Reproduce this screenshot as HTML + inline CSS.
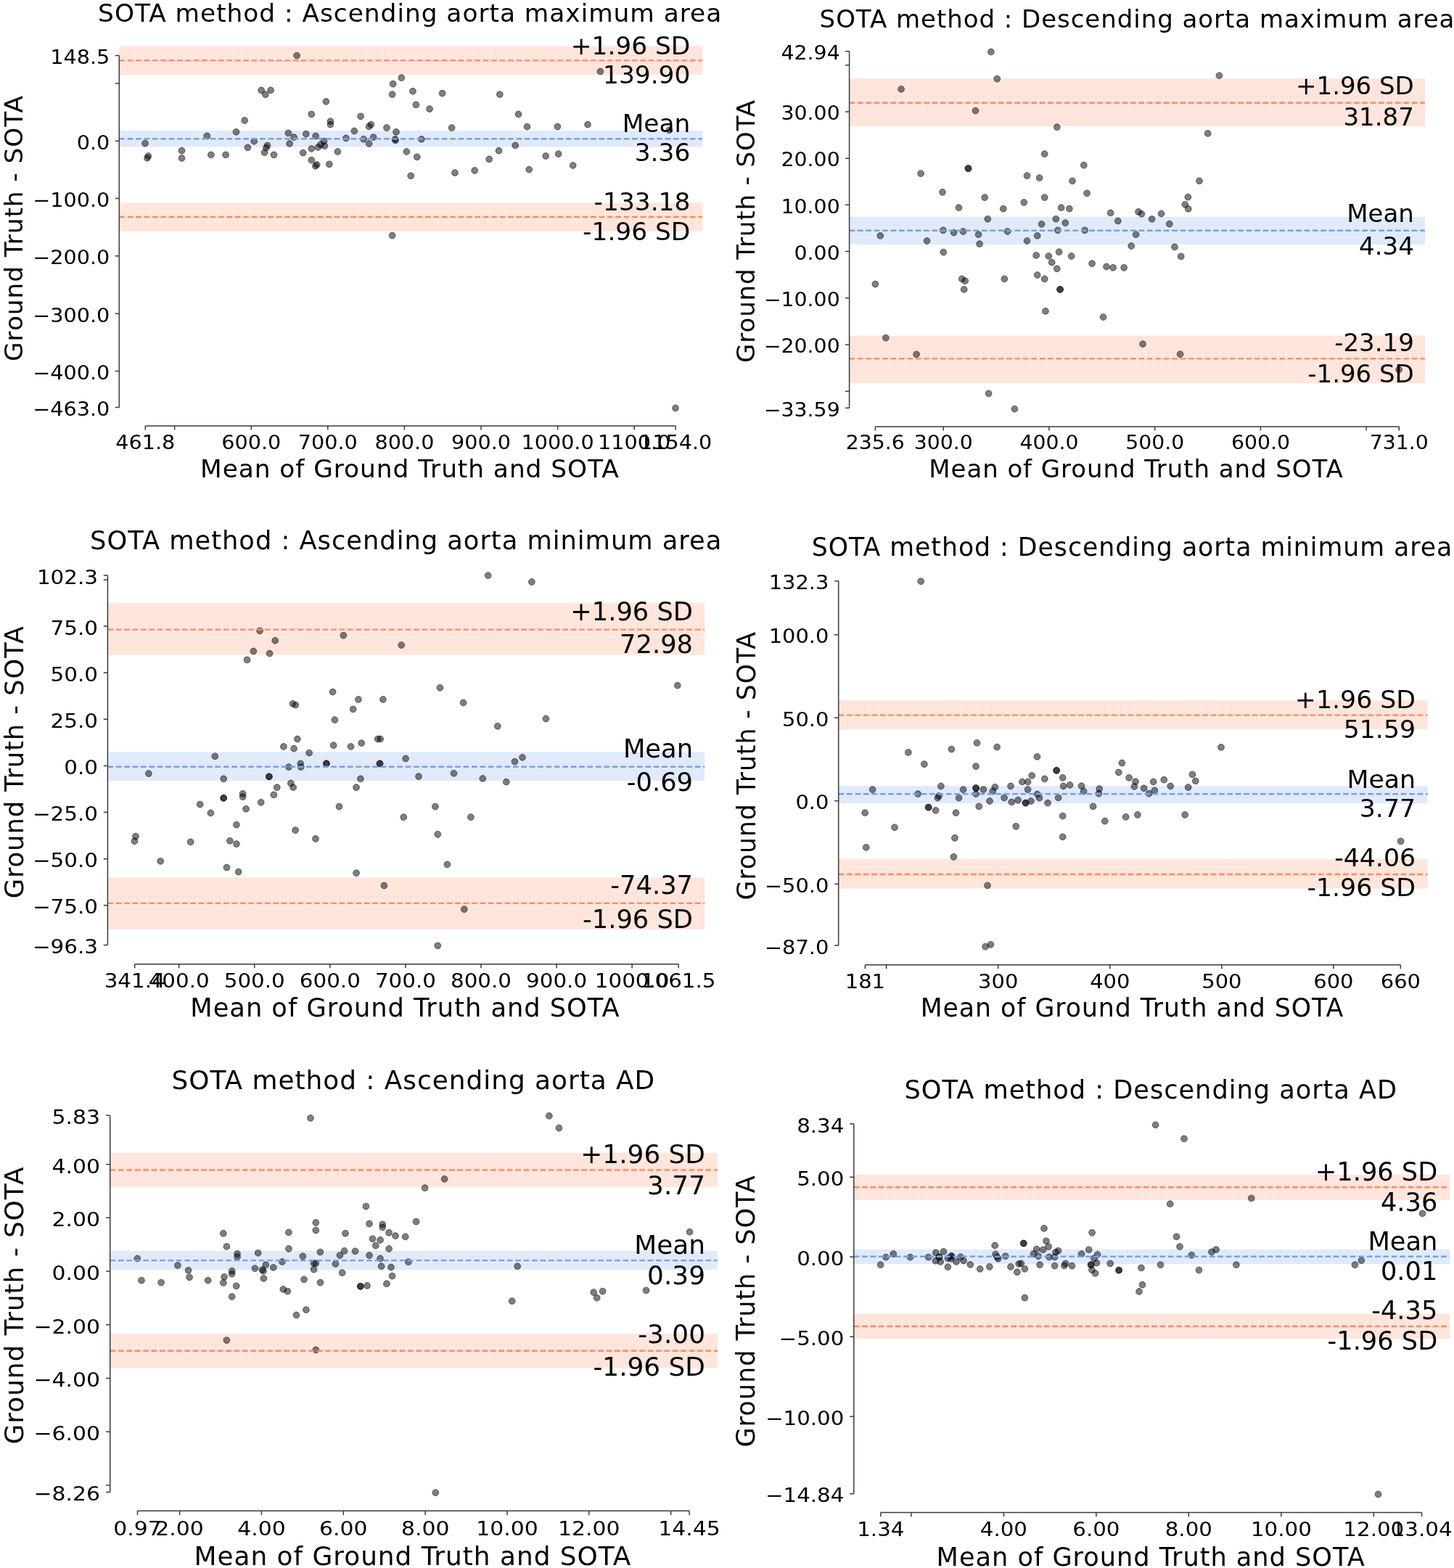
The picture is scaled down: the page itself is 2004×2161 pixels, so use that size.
<!DOCTYPE html>
<html><head><meta charset="utf-8"><title>SOTA method Bland-Altman plots</title>
<style>html,body{margin:0;padding:0;background:#fff;}svg{display:block;}text{fill:#000;}</style></head>
<body><svg width="2004" height="2161" viewBox="0 0 2004 2161" font-family="'DejaVu Sans', 'Liberation Sans', sans-serif">
<rect width="2004" height="2161" fill="#fff"/>
<rect x="164.3" y="63.3" width="803.8" height="39.9" fill="#ff7f50" fill-opacity="0.2"/>
<rect x="164.3" y="180.1" width="803.8" height="22.5" fill="#6495ed" fill-opacity="0.2"/>
<rect x="164.3" y="279.5" width="803.8" height="39.3" fill="#ff7f50" fill-opacity="0.2"/>
<g fill="#000" fill-opacity="0.5" stroke="#000" stroke-opacity="0.5" stroke-width="1"><circle cx="409.1" cy="76.6" r="4.4"/><circle cx="360.1" cy="124.3" r="4.4"/><circle cx="373.1" cy="124.3" r="4.4"/><circle cx="365.8" cy="130.1" r="4.4"/><circle cx="449.4" cy="140" r="4.4"/><circle cx="429.3" cy="157.4" r="4.4"/><circle cx="337.2" cy="166" r="4.4"/><circle cx="455.4" cy="167.1" r="4.4"/><circle cx="455.4" cy="171.7" r="4.4"/><circle cx="325.5" cy="181.8" r="4.4"/><circle cx="285.3" cy="187.4" r="4.4"/><circle cx="397.4" cy="183.4" r="4.4"/><circle cx="405.1" cy="189.1" r="4.4"/><circle cx="421.8" cy="184.7" r="4.4"/><circle cx="435.1" cy="187.4" r="4.4"/><circle cx="200" cy="197.7" r="4.4"/><circle cx="350.2" cy="194.7" r="4.4"/><circle cx="399.1" cy="198" r="4.4"/><circle cx="446.5" cy="194.7" r="4.4"/><circle cx="447.3" cy="201.2" r="4.4"/><circle cx="441.9" cy="199.3" r="4.4"/><circle cx="438.4" cy="202.9" r="4.4"/><circle cx="368.5" cy="200.4" r="4.4"/><circle cx="366.9" cy="203.7" r="4.4"/><circle cx="364.5" cy="210.2" r="4.4"/><circle cx="341.4" cy="203.3" r="4.4"/><circle cx="429.3" cy="205" r="4.4"/><circle cx="465.4" cy="209" r="4.4"/><circle cx="250.5" cy="207.7" r="4.4"/><circle cx="250.5" cy="218" r="4.4"/><circle cx="290.9" cy="213.4" r="4.4"/><circle cx="311.1" cy="213.4" r="4.4"/><circle cx="377.5" cy="213.4" r="4.4"/><circle cx="417.7" cy="210.6" r="4.4"/><circle cx="204.3" cy="215" r="4.4"/><circle cx="203" cy="217.8" r="4.4"/><circle cx="429.3" cy="220.7" r="4.4"/><circle cx="436.7" cy="226.9" r="4.4"/><circle cx="434.8" cy="228.8" r="4.4"/><circle cx="453.8" cy="226.4" r="4.4"/><circle cx="476.8" cy="190.4" r="4.4"/><circle cx="488.3" cy="180.5" r="4.4"/><circle cx="497.1" cy="160.3" r="4.4"/><circle cx="501.1" cy="191.8" r="4.4"/><circle cx="508.6" cy="198" r="4.4"/><circle cx="508.6" cy="174.4" r="4.4"/><circle cx="511.4" cy="171.7" r="4.4"/><circle cx="514.6" cy="189.1" r="4.4"/><circle cx="533" cy="176.1" r="4.4"/><circle cx="540.6" cy="130.1" r="4.4"/><circle cx="541.7" cy="115.7" r="4.4"/><circle cx="546" cy="181.8" r="4.4"/><circle cx="544.6" cy="191.8" r="4.4"/><circle cx="545" cy="193.5" r="4.4"/><circle cx="553.3" cy="107.1" r="4.4"/><circle cx="560.4" cy="209" r="4.4"/><circle cx="566.2" cy="242.3" r="4.4"/><circle cx="569" cy="125.7" r="4.4"/><circle cx="573.4" cy="144.4" r="4.4"/><circle cx="574.8" cy="216.3" r="4.4"/><circle cx="580.9" cy="191.8" r="4.4"/><circle cx="592.1" cy="150.1" r="4.4"/><circle cx="609.6" cy="128.7" r="4.4"/><circle cx="622.6" cy="176.1" r="4.4"/><circle cx="627" cy="238.1" r="4.4"/><circle cx="654.2" cy="235" r="4.4"/><circle cx="674.2" cy="219.4" r="4.4"/><circle cx="687.5" cy="207.7" r="4.4"/><circle cx="688.8" cy="130.1" r="4.4"/><circle cx="710.2" cy="200.4" r="4.4"/><circle cx="714.6" cy="157.4" r="4.4"/><circle cx="726.5" cy="174.6" r="4.4"/><circle cx="729.2" cy="233.7" r="4.4"/><circle cx="540.6" cy="324.6" r="4.4"/><circle cx="827.4" cy="98.5" r="4.4"/><circle cx="768.4" cy="174.6" r="4.4"/><circle cx="810" cy="171.7" r="4.4"/><circle cx="752.2" cy="215" r="4.4"/><circle cx="769.7" cy="212.1" r="4.4"/><circle cx="789.7" cy="228" r="4.4"/><circle cx="922.3" cy="179.3" r="4.4"/><circle cx="931" cy="562.4" r="4.4"/></g>
<line x1="164.3" y1="83.35" x2="968.1" y2="83.35" stroke="#fb8a60" stroke-width="2.4" stroke-dasharray="7.6 3.8"/>
<line x1="164.3" y1="191.3" x2="968.1" y2="191.3" stroke="#769fee" stroke-width="2.4" stroke-dasharray="7.6 3.8"/>
<line x1="164.3" y1="299" x2="968.1" y2="299" stroke="#fb8a60" stroke-width="2.4" stroke-dasharray="7.6 3.8"/>
<path d="M164.3 76.45V561.46M200.28 586.9H931.21M164.3 76.45h-5.6M164.3 114.91h-5.6M164.3 194.23h-5.6M164.3 273.54h-5.6M164.3 352.86h-5.6M164.3 432.17h-5.6M164.3 511.49h-5.6M164.3 561.46h-5.6M200.28 586.9v5.6M240.62 586.9v5.6M346.21 586.9v5.6M451.8 586.9v5.6M557.4 586.9v5.6M662.99 586.9v5.6M768.59 586.9v5.6M874.18 586.9v5.6M931.21 586.9v5.6" stroke="#3a3a3a" stroke-width="1.5" fill="none"/>
<g font-size="26.26" text-anchor="end"><text transform="translate(151.21 87.85) scale(1.091 1)">148.5</text><text transform="translate(151.21 205.64) scale(1.091 1)">0.0</text><text transform="translate(151.21 284.95) scale(1.091 1)">−100.0</text><text transform="translate(151.21 364.27) scale(1.091 1)">−200.0</text><text transform="translate(151.21 443.58) scale(1.091 1)">−300.0</text><text transform="translate(151.21 522.9) scale(1.091 1)">−400.0</text><text transform="translate(151.21 572.86) scale(1.091 1)">−463.0</text></g>
<g font-size="26.26" text-anchor="middle"><text transform="translate(200.28 619) scale(1.091 1)">461.8</text><text transform="translate(346.21 619) scale(1.091 1)">600.0</text><text transform="translate(451.8 619) scale(1.091 1)">700.0</text><text transform="translate(557.4 619) scale(1.091 1)">800.0</text><text transform="translate(662.99 619) scale(1.091 1)">900.0</text><text transform="translate(768.59 619) scale(1.091 1)">1000.0</text><text transform="translate(874.18 619) scale(1.091 1)">1100.0</text><text transform="translate(931.21 619) scale(1.091 1)">1154.0</text></g>
<text transform="translate(565.18 30) scale(1.0 1)" font-size="34.39" letter-spacing="0.968" text-anchor="middle">SOTA method : Ascending aorta maximum area</text>
<text transform="translate(564.87 657.7) scale(1.0 1)" font-size="34.39" letter-spacing="0.942" text-anchor="middle">Mean of Ground Truth and SOTA</text>
<text transform="translate(31 314.54) rotate(-90)" font-size="34.39" letter-spacing="0.913" text-anchor="middle">Ground Truth - SOTA</text>
<g font-size="33.89" text-anchor="end"><text transform="translate(951.3 75.1) scale(1.015 1)">+1.96 SD</text><text transform="translate(951.3 114.7) scale(1.015 1)">139.90</text><text transform="translate(951.3 182.3) scale(1.015 1)">Mean</text><text transform="translate(951.3 221.8) scale(1.015 1)">3.36</text><text transform="translate(951.3 290.1) scale(1.015 1)">-133.18</text><text transform="translate(951.3 331.1) scale(1.015 1)">-1.96 SD</text></g>
<rect x="1170.6" y="108.3" width="793.4" height="65.6" fill="#ff7f50" fill-opacity="0.2"/>
<rect x="1170.6" y="298.8" width="793.4" height="38.4" fill="#6495ed" fill-opacity="0.2"/>
<rect x="1170.6" y="462.6" width="793.4" height="65.6" fill="#ff7f50" fill-opacity="0.2"/>
<g fill="#000" fill-opacity="0.5" stroke="#000" stroke-opacity="0.5" stroke-width="1"><circle cx="1365.9" cy="71.5" r="4.4"/><circle cx="1374.3" cy="108.7" r="4.4"/><circle cx="1242.1" cy="122.8" r="4.4"/><circle cx="1344.5" cy="152.6" r="4.4"/><circle cx="1456.8" cy="175.2" r="4.4"/><circle cx="1439.7" cy="212.2" r="4.4"/><circle cx="1334.5" cy="232.1" r="4.4"/><circle cx="1334.5" cy="232.1" r="4.4"/><circle cx="1493.8" cy="227.7" r="4.4"/><circle cx="1269.1" cy="239.2" r="4.4"/><circle cx="1415.5" cy="242.2" r="4.4"/><circle cx="1432.6" cy="245.1" r="4.4"/><circle cx="1478" cy="249.4" r="4.4"/><circle cx="1299" cy="264.8" r="4.4"/><circle cx="1357.2" cy="272.1" r="4.4"/><circle cx="1439.7" cy="272.1" r="4.4"/><circle cx="1498.1" cy="266.3" r="4.4"/><circle cx="1411.3" cy="279" r="4.4"/><circle cx="1321.5" cy="286.2" r="4.4"/><circle cx="1382.8" cy="287.7" r="4.4"/><circle cx="1462.6" cy="286.2" r="4.4"/><circle cx="1473.9" cy="287.7" r="4.4"/><circle cx="1530.6" cy="293.3" r="4.4"/><circle cx="1361.3" cy="301.8" r="4.4"/><circle cx="1455.3" cy="301.8" r="4.4"/><circle cx="1540.8" cy="304.6" r="4.4"/><circle cx="1435.6" cy="308.9" r="4.4"/><circle cx="1468.3" cy="307.2" r="4.4"/><circle cx="1299.9" cy="317.3" r="4.4"/><circle cx="1314.6" cy="320.6" r="4.4"/><circle cx="1327.4" cy="319" r="4.4"/><circle cx="1388.6" cy="319" r="4.4"/><circle cx="1457.9" cy="317.3" r="4.4"/><circle cx="1495.1" cy="317.3" r="4.4"/><circle cx="1213.3" cy="324.9" r="4.4"/><circle cx="1348.6" cy="323.2" r="4.4"/><circle cx="1429.7" cy="324.9" r="4.4"/><circle cx="1565.7" cy="323.2" r="4.4"/><circle cx="1277.6" cy="332" r="4.4"/><circle cx="1350.1" cy="336.1" r="4.4"/><circle cx="1415.5" cy="332" r="4.4"/><circle cx="1559.2" cy="339" r="4.4"/><circle cx="1300.3" cy="347.6" r="4.4"/><circle cx="1428.2" cy="351.9" r="4.4"/><circle cx="1445.3" cy="353" r="4.4"/><circle cx="1459.6" cy="347.2" r="4.4"/><circle cx="1476.7" cy="353" r="4.4"/><circle cx="1449.7" cy="361.7" r="4.4"/><circle cx="1456.8" cy="370.3" r="4.4"/><circle cx="1505.1" cy="363.2" r="4.4"/><circle cx="1525" cy="367.5" r="4.4"/><circle cx="1534.1" cy="368.8" r="4.4"/><circle cx="1549.2" cy="368.8" r="4.4"/><circle cx="1429.7" cy="379" r="4.4"/><circle cx="1439.7" cy="384.4" r="4.4"/><circle cx="1384.3" cy="384.4" r="4.4"/><circle cx="1325.8" cy="384.4" r="4.4"/><circle cx="1330.2" cy="387.2" r="4.4"/><circle cx="1328.7" cy="398.9" r="4.4"/><circle cx="1206.4" cy="391.6" r="4.4"/><circle cx="1461.1" cy="398.9" r="4.4"/><circle cx="1461.1" cy="398.9" r="4.4"/><circle cx="1441" cy="428.8" r="4.4"/><circle cx="1520.6" cy="437" r="4.4"/><circle cx="1220.9" cy="465.6" r="4.4"/><circle cx="1263.1" cy="488.3" r="4.4"/><circle cx="1362.6" cy="542.4" r="4.4"/><circle cx="1398.4" cy="563.6" r="4.4"/><circle cx="1680.4" cy="104.1" r="4.4"/><circle cx="1664.7" cy="183.9" r="4.4"/><circle cx="1653" cy="249.3" r="4.4"/><circle cx="1637.4" cy="271.7" r="4.4"/><circle cx="1633.3" cy="281.8" r="4.4"/><circle cx="1637.8" cy="287.8" r="4.4"/><circle cx="1569" cy="291.9" r="4.4"/><circle cx="1573.5" cy="294.8" r="4.4"/><circle cx="1600.6" cy="294.5" r="4.4"/><circle cx="1587.6" cy="301.9" r="4.4"/><circle cx="1611.8" cy="308.7" r="4.4"/><circle cx="1619" cy="340.3" r="4.4"/><circle cx="1627.7" cy="353.3" r="4.4"/><circle cx="1575.1" cy="474.1" r="4.4"/><circle cx="1626.6" cy="488.2" r="4.4"/><circle cx="1928.1" cy="509.5" r="4.4"/></g>
<line x1="1170.6" y1="141.8" x2="1964" y2="141.8" stroke="#fb8a60" stroke-width="2.4" stroke-dasharray="7.6 3.8"/>
<line x1="1170.6" y1="317.8" x2="1964" y2="317.8" stroke="#769fee" stroke-width="2.4" stroke-dasharray="7.6 3.8"/>
<line x1="1170.6" y1="494.4" x2="1964" y2="494.4" stroke="#fb8a60" stroke-width="2.4" stroke-dasharray="7.6 3.8"/>
<path d="M1170.6 70.83V562.3M1206.36 588H1928.33M1170.6 70.83h-5.6M1170.6 89.71h-5.6M1170.6 153.93h-5.6M1170.6 218.15h-5.6M1170.6 282.37h-5.6M1170.6 346.59h-5.6M1170.6 410.81h-5.6M1170.6 475.03h-5.6M1170.6 539.25h-5.6M1170.6 562.3h-5.6M1206.36 588v5.6M1300.22 588v5.6M1445.95 588v5.6M1591.68 588v5.6M1737.41 588v5.6M1883.15 588v5.6M1928.33 588v5.6" stroke="#3a3a3a" stroke-width="1.5" fill="none"/>
<g font-size="25.97" text-anchor="end"><text transform="translate(1157.65 82.11) scale(1.091 1)">42.94</text><text transform="translate(1157.65 165.21) scale(1.091 1)">30.00</text><text transform="translate(1157.65 229.43) scale(1.091 1)">20.00</text><text transform="translate(1157.65 293.65) scale(1.091 1)">10.00</text><text transform="translate(1157.65 357.87) scale(1.091 1)">0.00</text><text transform="translate(1157.65 422.09) scale(1.091 1)">−10.00</text><text transform="translate(1157.65 486.31) scale(1.091 1)">−20.00</text><text transform="translate(1157.65 573.59) scale(1.091 1)">−33.59</text></g>
<g font-size="25.97" text-anchor="middle"><text transform="translate(1206.36 619.2) scale(1.091 1)">235.6</text><text transform="translate(1300.22 619.2) scale(1.091 1)">300.0</text><text transform="translate(1445.95 619.2) scale(1.091 1)">400.0</text><text transform="translate(1591.68 619.2) scale(1.091 1)">500.0</text><text transform="translate(1737.41 619.2) scale(1.091 1)">600.0</text><text transform="translate(1928.33 619.2) scale(1.091 1)">731.0</text></g>
<text transform="translate(1567.48 38) scale(1.0 1)" font-size="34.01" letter-spacing="0.963" text-anchor="middle">SOTA method : Descending aorta maximum area</text>
<text transform="translate(1565.97 658) scale(1.0 1)" font-size="34.01" letter-spacing="0.931" text-anchor="middle">Mean of Ground Truth and SOTA</text>
<text transform="translate(1039.8 318.55) rotate(-90)" font-size="34.01" letter-spacing="0.902" text-anchor="middle">Ground Truth - SOTA</text>
<g font-size="33.51" text-anchor="end"><text transform="translate(1948.8 130) scale(1.015 1)">+1.96 SD</text><text transform="translate(1948.8 172.8) scale(1.015 1)">31.87</text><text transform="translate(1948.8 306.1) scale(1.015 1)">Mean</text><text transform="translate(1948.8 351.3) scale(1.015 1)">4.34</text><text transform="translate(1948.8 483.5) scale(1.015 1)">-23.19</text><text transform="translate(1948.8 526.8) scale(1.015 1)">-1.96 SD</text></g>
<rect x="148.4" y="831" width="822.8" height="71.6" fill="#ff7f50" fill-opacity="0.2"/>
<rect x="148.4" y="1036.3" width="822.8" height="39.8" fill="#6495ed" fill-opacity="0.2"/>
<rect x="148.4" y="1209.6" width="822.8" height="71.4" fill="#ff7f50" fill-opacity="0.2"/>
<g fill="#000" fill-opacity="0.5" stroke="#000" stroke-opacity="0.5" stroke-width="1"><circle cx="358" cy="869.4" r="4.4"/><circle cx="379.2" cy="882.8" r="4.4"/><circle cx="349.3" cy="897.5" r="4.4"/><circle cx="371.6" cy="900.6" r="4.4"/><circle cx="340.6" cy="909.4" r="4.4"/><circle cx="473.3" cy="875.7" r="4.4"/><circle cx="458.6" cy="953.6" r="4.4"/><circle cx="403.4" cy="969.8" r="4.4"/><circle cx="407.3" cy="971.6" r="4.4"/><circle cx="493.9" cy="964" r="4.4"/><circle cx="527.9" cy="964" r="4.4"/><circle cx="486.7" cy="977.4" r="4.4"/><circle cx="461.4" cy="992.1" r="4.4"/><circle cx="409.9" cy="1018.5" r="4.4"/><circle cx="390.9" cy="1028.9" r="4.4"/><circle cx="405.1" cy="1031.7" r="4.4"/><circle cx="459.7" cy="1027.2" r="4.4"/><circle cx="483.5" cy="1028.9" r="4.4"/><circle cx="498.2" cy="1024.2" r="4.4"/><circle cx="520.7" cy="1018.5" r="4.4"/><circle cx="524.2" cy="1018.5" r="4.4"/><circle cx="426.1" cy="1037.6" r="4.4"/><circle cx="296.3" cy="1042.3" r="4.4"/><circle cx="204.9" cy="1066.1" r="4.4"/><circle cx="308.2" cy="1073.3" r="4.4"/><circle cx="398" cy="1057.1" r="4.4"/><circle cx="414.2" cy="1052.3" r="4.4"/><circle cx="414.7" cy="1057.1" r="4.4"/><circle cx="449.9" cy="1052.3" r="4.4"/><circle cx="449.9" cy="1052.3" r="4.4"/><circle cx="523.5" cy="1052.3" r="4.4"/><circle cx="523.5" cy="1052.3" r="4.4"/><circle cx="370.9" cy="1070.3" r="4.4"/><circle cx="370.9" cy="1070.3" r="4.4"/><circle cx="496.9" cy="1073.3" r="4.4"/><circle cx="400.8" cy="1079.4" r="4.4"/><circle cx="404.1" cy="1085.2" r="4.4"/><circle cx="381.8" cy="1085.2" r="4.4"/><circle cx="377.4" cy="1095.4" r="4.4"/><circle cx="491.1" cy="1085.2" r="4.4"/><circle cx="334.6" cy="1093.9" r="4.4"/><circle cx="334.6" cy="1098.2" r="4.4"/><circle cx="308.2" cy="1099.9" r="4.4"/><circle cx="308.2" cy="1099.9" r="4.4"/><circle cx="359.7" cy="1105.8" r="4.4"/><circle cx="275.7" cy="1108.6" r="4.4"/><circle cx="290.4" cy="1120.5" r="4.4"/><circle cx="339.1" cy="1114.8" r="4.4"/><circle cx="467.5" cy="1111.6" r="4.4"/><circle cx="325.9" cy="1136.7" r="4.4"/><circle cx="407.1" cy="1144.1" r="4.4"/><circle cx="435" cy="1156" r="4.4"/><circle cx="187" cy="1152.7" r="4.4"/><circle cx="185.4" cy="1159.2" r="4.4"/><circle cx="262.7" cy="1160.3" r="4.4"/><circle cx="316.8" cy="1158.8" r="4.4"/><circle cx="325.9" cy="1163.1" r="4.4"/><circle cx="221.2" cy="1186.9" r="4.4"/><circle cx="312.5" cy="1195.6" r="4.4"/><circle cx="328.7" cy="1201.6" r="4.4"/><circle cx="491.1" cy="1203.2" r="4.4"/><circle cx="529.4" cy="1220.5" r="4.4"/><circle cx="672.7" cy="793.1" r="4.4"/><circle cx="732.9" cy="802" r="4.4"/><circle cx="553.2" cy="889.1" r="4.4"/><circle cx="606.4" cy="947.8" r="4.4"/><circle cx="638.6" cy="968.5" r="4.4"/><circle cx="685.8" cy="1000.8" r="4.4"/><circle cx="752.4" cy="990.5" r="4.4"/><circle cx="933.8" cy="944.7" r="4.4"/><circle cx="559.1" cy="1045.5" r="4.4"/><circle cx="709.5" cy="1049.6" r="4.4"/><circle cx="720" cy="1043.8" r="4.4"/><circle cx="577" cy="1070.1" r="4.4"/><circle cx="625.5" cy="1065.8" r="4.4"/><circle cx="665.3" cy="1073" r="4.4"/><circle cx="697.8" cy="1077.7" r="4.4"/><circle cx="599.9" cy="1111.6" r="4.4"/><circle cx="556.3" cy="1126.2" r="4.4"/><circle cx="648.9" cy="1126.2" r="4.4"/><circle cx="603.3" cy="1149.8" r="4.4"/><circle cx="616.4" cy="1191.3" r="4.4"/><circle cx="639.8" cy="1253.1" r="4.4"/><circle cx="603.3" cy="1303.3" r="4.4"/></g>
<line x1="148.4" y1="867.6" x2="971.2" y2="867.6" stroke="#fb8a60" stroke-width="2.4" stroke-dasharray="7.6 3.8"/>
<line x1="148.4" y1="1056.7" x2="971.2" y2="1056.7" stroke="#769fee" stroke-width="2.4" stroke-dasharray="7.6 3.8"/>
<line x1="148.4" y1="1244.9" x2="971.2" y2="1244.9" stroke="#fb8a60" stroke-width="2.4" stroke-dasharray="7.6 3.8"/>
<path d="M148.4 792.98V1302.42M185.67 1328.7H935.16M148.4 792.98h-5.6M148.4 798.88h-5.6M148.4 863h-5.6M148.4 927.13h-5.6M148.4 991.26h-5.6M148.4 1055.39h-5.6M148.4 1119.52h-5.6M148.4 1183.65h-5.6M148.4 1247.78h-5.6M148.4 1302.42h-5.6M185.67 1328.7v5.6M246.66 1328.7v5.6M350.74 1328.7v5.6M454.83 1328.7v5.6M558.91 1328.7v5.6M662.99 1328.7v5.6M767.07 1328.7v5.6M871.15 1328.7v5.6M935.16 1328.7v5.6" stroke="#3a3a3a" stroke-width="1.5" fill="none"/>
<g font-size="26.92" text-anchor="end"><text transform="translate(134.98 804.67) scale(1.091 1)">102.3</text><text transform="translate(134.98 874.7) scale(1.091 1)">75.0</text><text transform="translate(134.98 938.83) scale(1.091 1)">50.0</text><text transform="translate(134.98 1002.96) scale(1.091 1)">25.0</text><text transform="translate(134.98 1067.09) scale(1.091 1)">0.0</text><text transform="translate(134.98 1131.22) scale(1.091 1)">−25.0</text><text transform="translate(134.98 1195.35) scale(1.091 1)">−50.0</text><text transform="translate(134.98 1259.48) scale(1.091 1)">−75.0</text><text transform="translate(134.98 1314.12) scale(1.091 1)">−96.3</text></g>
<g font-size="26.92" text-anchor="middle"><text transform="translate(185.67 1360.9) scale(1.091 1)">341.4</text><text transform="translate(246.66 1360.9) scale(1.091 1)">400.0</text><text transform="translate(350.74 1360.9) scale(1.091 1)">500.0</text><text transform="translate(454.83 1360.9) scale(1.091 1)">600.0</text><text transform="translate(558.91 1360.9) scale(1.091 1)">700.0</text><text transform="translate(662.99 1360.9) scale(1.091 1)">800.0</text><text transform="translate(767.07 1360.9) scale(1.091 1)">900.0</text><text transform="translate(871.15 1360.9) scale(1.091 1)">1000.0</text><text transform="translate(935.16 1360.9) scale(1.091 1)">1061.5</text></g>
<text transform="translate(559.69 757) scale(1.0 1)" font-size="35.25" letter-spacing="0.980" text-anchor="middle">SOTA method : Ascending aorta minimum area</text>
<text transform="translate(558.48 1400.6) scale(1.0 1)" font-size="35.25" letter-spacing="0.965" text-anchor="middle">Mean of Ground Truth and SOTA</text>
<text transform="translate(31.9 1050.23) rotate(-90)" font-size="35.25" letter-spacing="0.936" text-anchor="middle">Ground Truth - SOTA</text>
<g font-size="34.74" text-anchor="end"><text transform="translate(955 855.3) scale(1.015 1)">+1.96 SD</text><text transform="translate(955 900.3) scale(1.015 1)">72.98</text><text transform="translate(955 1043.9) scale(1.015 1)">Mean</text><text transform="translate(955 1089.9) scale(1.015 1)">-0.69</text><text transform="translate(955 1231.8) scale(1.015 1)">-74.37</text><text transform="translate(955 1278.7) scale(1.015 1)">-1.96 SD</text></g>
<rect x="1155.7" y="965.2" width="812" height="39.9" fill="#ff7f50" fill-opacity="0.2"/>
<rect x="1155.7" y="1083.2" width="812" height="24.1" fill="#6495ed" fill-opacity="0.2"/>
<rect x="1155.7" y="1183.7" width="812" height="40.9" fill="#ff7f50" fill-opacity="0.2"/>
<g fill="#000" fill-opacity="0.5" stroke="#000" stroke-opacity="0.5" stroke-width="1"><circle cx="1269.2" cy="801.2" r="4.4"/><circle cx="1251.9" cy="1036.9" r="4.4"/><circle cx="1311.4" cy="1032.6" r="4.4"/><circle cx="1346.5" cy="1023.9" r="4.4"/><circle cx="1374.2" cy="1029.6" r="4.4"/><circle cx="1273.9" cy="1053.1" r="4.4"/><circle cx="1345.1" cy="1056.1" r="4.4"/><circle cx="1429.5" cy="1042.9" r="4.4"/><circle cx="1422.2" cy="1068.9" r="4.4"/><circle cx="1439.8" cy="1073.4" r="4.4"/><circle cx="1408.9" cy="1077.5" r="4.4"/><circle cx="1416.6" cy="1077.5" r="4.4"/><circle cx="1202.6" cy="1088.1" r="4.4"/><circle cx="1296.9" cy="1083.5" r="4.4"/><circle cx="1327.6" cy="1088.1" r="4.4"/><circle cx="1345.1" cy="1086.1" r="4.4"/><circle cx="1345.1" cy="1086.1" r="4.4"/><circle cx="1355.4" cy="1088.1" r="4.4"/><circle cx="1371.4" cy="1084.8" r="4.4"/><circle cx="1368.3" cy="1090.5" r="4.4"/><circle cx="1393" cy="1083.5" r="4.4"/><circle cx="1416.6" cy="1088.1" r="4.4"/><circle cx="1265.1" cy="1094.1" r="4.4"/><circle cx="1294" cy="1097" r="4.4"/><circle cx="1292.4" cy="1099.7" r="4.4"/><circle cx="1345.1" cy="1094.2" r="4.4"/><circle cx="1321.6" cy="1099.7" r="4.4"/><circle cx="1384.1" cy="1099.4" r="4.4"/><circle cx="1429.5" cy="1094.5" r="4.4"/><circle cx="1432.5" cy="1099.7" r="4.4"/><circle cx="1364.1" cy="1104" r="4.4"/><circle cx="1394.3" cy="1105.4" r="4.4"/><circle cx="1403.1" cy="1102.7" r="4.4"/><circle cx="1413.6" cy="1106.7" r="4.4"/><circle cx="1413.6" cy="1106.7" r="4.4"/><circle cx="1420.9" cy="1104" r="4.4"/><circle cx="1444.1" cy="1106.7" r="4.4"/><circle cx="1279.7" cy="1112.7" r="4.4"/><circle cx="1279.7" cy="1112.7" r="4.4"/><circle cx="1289.6" cy="1116.9" r="4.4"/><circle cx="1317.5" cy="1120.2" r="4.4"/><circle cx="1349.2" cy="1111.3" r="4.4"/><circle cx="1192.2" cy="1120.2" r="4.4"/><circle cx="1233" cy="1140.3" r="4.4"/><circle cx="1400.3" cy="1138.9" r="4.4"/><circle cx="1315.9" cy="1154.9" r="4.4"/><circle cx="1193.7" cy="1167.9" r="4.4"/><circle cx="1314.4" cy="1180.9" r="4.4"/><circle cx="1456.2" cy="1061.8" r="4.4"/><circle cx="1456.2" cy="1061.8" r="4.4"/><circle cx="1464.7" cy="1071.8" r="4.4"/><circle cx="1465.6" cy="1083.5" r="4.4"/><circle cx="1474.6" cy="1081.9" r="4.4"/><circle cx="1458.7" cy="1099.4" r="4.4"/><circle cx="1464.7" cy="1124.6" r="4.4"/><circle cx="1464.7" cy="1153.3" r="4.4"/><circle cx="1490.6" cy="1083.2" r="4.4"/><circle cx="1493.6" cy="1090.5" r="4.4"/><circle cx="1506.6" cy="1111.3" r="4.4"/><circle cx="1515.2" cy="1087.2" r="4.4"/><circle cx="1514.4" cy="1093.7" r="4.4"/><circle cx="1522.8" cy="1131.6" r="4.4"/><circle cx="1541.8" cy="1064.5" r="4.4"/><circle cx="1546.3" cy="1051.5" r="4.4"/><circle cx="1556.1" cy="1071.8" r="4.4"/><circle cx="1565" cy="1077.2" r="4.4"/><circle cx="1563.4" cy="1084" r="4.4"/><circle cx="1551.7" cy="1125.9" r="4.4"/><circle cx="1567.9" cy="1123" r="4.4"/><circle cx="1576.7" cy="1086.4" r="4.4"/><circle cx="1583.7" cy="1093.7" r="4.4"/><circle cx="1589.7" cy="1077.5" r="4.4"/><circle cx="1591.3" cy="1089.4" r="4.4"/><circle cx="1604.3" cy="1074.7" r="4.4"/><circle cx="1613.2" cy="1083.5" r="4.4"/><circle cx="1633.2" cy="1123" r="4.4"/><circle cx="1637.7" cy="1085.1" r="4.4"/><circle cx="1643.4" cy="1067.3" r="4.4"/><circle cx="1647.8" cy="1076.4" r="4.4"/><circle cx="1683" cy="1029.9" r="4.4"/><circle cx="1361" cy="1220.3" r="4.4"/><circle cx="1358.1" cy="1304.7" r="4.4"/><circle cx="1365.4" cy="1301.8" r="4.4"/><circle cx="1930.6" cy="1159.4" r="4.4"/></g>
<line x1="1155.7" y1="985.6" x2="1967.7" y2="985.6" stroke="#fb8a60" stroke-width="2.4" stroke-dasharray="7.6 3.8"/>
<line x1="1155.7" y1="1094.3" x2="1967.7" y2="1094.3" stroke="#769fee" stroke-width="2.4" stroke-dasharray="7.6 3.8"/>
<line x1="1155.7" y1="1205" x2="1967.7" y2="1205" stroke="#fb8a60" stroke-width="2.4" stroke-dasharray="7.6 3.8"/>
<path d="M1155.7 800.66V1303.12M1192.4 1329.7H1930.35M1155.7 800.66h-5.6M1155.7 874.67h-5.6M1155.7 989.23h-5.6M1155.7 1103.79h-5.6M1155.7 1218.35h-5.6M1155.7 1303.12h-5.6M1192.4 1329.7v5.6M1221.67 1329.7v5.6M1375.73 1329.7v5.6M1529.79 1329.7v5.6M1683.85 1329.7v5.6M1837.91 1329.7v5.6M1930.35 1329.7v5.6" stroke="#3a3a3a" stroke-width="1.5" fill="none"/>
<g font-size="26.53" text-anchor="end"><text transform="translate(1142.47 812.19) scale(1.091 1)">132.3</text><text transform="translate(1142.47 886.19) scale(1.091 1)">100.0</text><text transform="translate(1142.47 1000.75) scale(1.091 1)">50.0</text><text transform="translate(1142.47 1115.31) scale(1.091 1)">0.0</text><text transform="translate(1142.47 1229.87) scale(1.091 1)">−50.0</text><text transform="translate(1142.47 1314.65) scale(1.091 1)">−87.0</text></g>
<g font-size="26.53" text-anchor="middle"><text transform="translate(1192.4 1362.1) scale(1.091 1)">181</text><text transform="translate(1375.73 1362.1) scale(1.091 1)">300</text><text transform="translate(1529.79 1362.1) scale(1.091 1)">400</text><text transform="translate(1683.85 1362.1) scale(1.091 1)">500</text><text transform="translate(1837.91 1362.1) scale(1.091 1)">600</text><text transform="translate(1930.35 1362.1) scale(1.091 1)">660</text></g>
<text transform="translate(1560.49 766.2) scale(1.0 1)" font-size="34.73" letter-spacing="0.971" text-anchor="middle">SOTA method : Descending aorta minimum area</text>
<text transform="translate(1560.38 1401.4) scale(1.0 1)" font-size="34.73" letter-spacing="0.951" text-anchor="middle">Mean of Ground Truth and SOTA</text>
<text transform="translate(1040.9 1055.24) rotate(-90)" font-size="34.73" letter-spacing="0.922" text-anchor="middle">Ground Truth - SOTA</text>
<g font-size="34.23" text-anchor="end"><text transform="translate(1951.1 976.2) scale(1.015 1)">+1.96 SD</text><text transform="translate(1951.1 1016.8) scale(1.015 1)">51.59</text><text transform="translate(1951.1 1085.6) scale(1.015 1)">Mean</text><text transform="translate(1951.1 1126.1) scale(1.015 1)">3.77</text><text transform="translate(1951.1 1194.1) scale(1.015 1)">-44.06</text><text transform="translate(1951.1 1235.1) scale(1.015 1)">-1.96 SD</text></g>
<rect x="151.7" y="1588.9" width="837.1" height="47.1" fill="#ff7f50" fill-opacity="0.2"/>
<rect x="151.7" y="1724" width="837.1" height="25.9" fill="#6495ed" fill-opacity="0.2"/>
<rect x="151.7" y="1838.1" width="837.1" height="47.2" fill="#ff7f50" fill-opacity="0.2"/>
<g fill="#000" fill-opacity="0.5" stroke="#000" stroke-opacity="0.5" stroke-width="1"><circle cx="307.8" cy="1699.9" r="4.4"/><circle cx="312.4" cy="1718" r="4.4"/><circle cx="327" cy="1728" r="4.4"/><circle cx="327" cy="1732.1" r="4.4"/><circle cx="355.7" cy="1726.9" r="4.4"/><circle cx="397.9" cy="1698.5" r="4.4"/><circle cx="397.9" cy="1721" r="4.4"/><circle cx="435.3" cy="1685" r="4.4"/><circle cx="435.3" cy="1695.6" r="4.4"/><circle cx="441.3" cy="1725.6" r="4.4"/><circle cx="417.4" cy="1731.3" r="4.4"/><circle cx="189.3" cy="1734.5" r="4.4"/><circle cx="244.9" cy="1743.9" r="4.4"/><circle cx="259.6" cy="1750.8" r="4.4"/><circle cx="261.1" cy="1760.3" r="4.4"/><circle cx="195" cy="1764.6" r="4.4"/><circle cx="222.1" cy="1767.6" r="4.4"/><circle cx="286.7" cy="1764.6" r="4.4"/><circle cx="309.1" cy="1759.8" r="4.4"/><circle cx="307.8" cy="1767.9" r="4.4"/><circle cx="319.7" cy="1751.7" r="4.4"/><circle cx="319.7" cy="1755.7" r="4.4"/><circle cx="325.7" cy="1772.3" r="4.4"/><circle cx="319.7" cy="1787" r="4.4"/><circle cx="351.4" cy="1748.1" r="4.4"/><circle cx="361.4" cy="1750" r="4.4"/><circle cx="363" cy="1751.7" r="4.4"/><circle cx="366.3" cy="1743.2" r="4.4"/><circle cx="363.4" cy="1761.9" r="4.4"/><circle cx="376.8" cy="1746.8" r="4.4"/><circle cx="389" cy="1739" r="4.4"/><circle cx="390.3" cy="1776.8" r="4.4"/><circle cx="396.3" cy="1779.7" r="4.4"/><circle cx="408.5" cy="1812.5" r="4.4"/><circle cx="421.9" cy="1805.2" r="4.4"/><circle cx="419" cy="1763.3" r="4.4"/><circle cx="432.5" cy="1741.1" r="4.4"/><circle cx="435.3" cy="1741.1" r="4.4"/><circle cx="432.5" cy="1749.7" r="4.4"/><circle cx="441.5" cy="1767.6" r="4.4"/><circle cx="312.4" cy="1847.1" r="4.4"/><circle cx="435.3" cy="1860.4" r="4.4"/><circle cx="612.6" cy="1624.9" r="4.4"/><circle cx="585.6" cy="1637.1" r="4.4"/><circle cx="504.4" cy="1662.6" r="4.4"/><circle cx="509" cy="1686.6" r="4.4"/><circle cx="527.2" cy="1687.4" r="4.4"/><circle cx="527.2" cy="1691.5" r="4.4"/><circle cx="536.1" cy="1698.8" r="4.4"/><circle cx="545" cy="1703.2" r="4.4"/><circle cx="558.7" cy="1704.5" r="4.4"/><circle cx="573.6" cy="1683.7" r="4.4"/><circle cx="476" cy="1699.9" r="4.4"/><circle cx="513.5" cy="1707.4" r="4.4"/><circle cx="524.1" cy="1709" r="4.4"/><circle cx="517.9" cy="1716.7" r="4.4"/><circle cx="536.1" cy="1721" r="4.4"/><circle cx="474.6" cy="1724" r="4.4"/><circle cx="489.5" cy="1724.3" r="4.4"/><circle cx="468.4" cy="1730.1" r="4.4"/><circle cx="509" cy="1730.1" r="4.4"/><circle cx="524.1" cy="1734.5" r="4.4"/><circle cx="462.4" cy="1741.9" r="4.4"/><circle cx="471.7" cy="1754.1" r="4.4"/><circle cx="525.6" cy="1745.2" r="4.4"/><circle cx="539" cy="1746.5" r="4.4"/><circle cx="540.6" cy="1758.6" r="4.4"/><circle cx="532.9" cy="1769.2" r="4.4"/><circle cx="562.9" cy="1739.2" r="4.4"/><circle cx="496.8" cy="1772.8" r="4.4"/><circle cx="496.8" cy="1772.8" r="4.4"/><circle cx="506.1" cy="1771.9" r="4.4"/><circle cx="713.2" cy="1745.2" r="4.4"/><circle cx="705.7" cy="1793.1" r="4.4"/><circle cx="756.9" cy="1537.9" r="4.4"/><circle cx="770.4" cy="1554.6" r="4.4"/><circle cx="950.6" cy="1697.8" r="4.4"/><circle cx="427.9" cy="1540.9" r="4.4"/><circle cx="600.3" cy="2057.1" r="4.4"/><circle cx="818.2" cy="1781.1" r="4.4"/><circle cx="830.6" cy="1779.6" r="4.4"/><circle cx="822.7" cy="1788.7" r="4.4"/><circle cx="890.5" cy="1778.4" r="4.4"/></g>
<line x1="151.7" y1="1612.5" x2="988.8" y2="1612.5" stroke="#fb8a60" stroke-width="2.4" stroke-dasharray="7.6 3.8"/>
<line x1="151.7" y1="1737.1" x2="988.8" y2="1737.1" stroke="#769fee" stroke-width="2.4" stroke-dasharray="7.6 3.8"/>
<line x1="151.7" y1="1861.8" x2="988.8" y2="1861.8" stroke="#fb8a60" stroke-width="2.4" stroke-dasharray="7.6 3.8"/>
<path d="M151.7 1537.21V2056.49M189.51 2082.3H950.04M151.7 1537.21h-5.6M151.7 1604.65h-5.6M151.7 1678.36h-5.6M151.7 1752.07h-5.6M151.7 1825.78h-5.6M151.7 1899.49h-5.6M151.7 1973.2h-5.6M151.7 2046.91h-5.6M151.7 2056.49h-5.6M189.51 2082.3v5.6M247.62 2082.3v5.6M360.46 2082.3v5.6M473.3 2082.3v5.6M586.14 2082.3v5.6M698.97 2082.3v5.6M811.81 2082.3v5.6M924.65 2082.3v5.6M950.04 2082.3v5.6" stroke="#3a3a3a" stroke-width="1.5" fill="none"/>
<g font-size="27.4" text-anchor="end"><text transform="translate(138.04 1549.11) scale(1.091 1)">5.83</text><text transform="translate(138.04 1616.55) scale(1.091 1)">4.00</text><text transform="translate(138.04 1690.26) scale(1.091 1)">2.00</text><text transform="translate(138.04 1763.97) scale(1.091 1)">0.00</text><text transform="translate(138.04 1837.68) scale(1.091 1)">−2.00</text><text transform="translate(138.04 1911.39) scale(1.091 1)">−4.00</text><text transform="translate(138.04 1985.1) scale(1.091 1)">−6.00</text><text transform="translate(138.04 2068.39) scale(1.091 1)">−8.26</text></g>
<g font-size="27.4" text-anchor="middle"><text transform="translate(189.51 2115.7) scale(1.091 1)">0.97</text><text transform="translate(247.62 2115.7) scale(1.091 1)">2.00</text><text transform="translate(360.46 2115.7) scale(1.091 1)">4.00</text><text transform="translate(473.3 2115.7) scale(1.091 1)">6.00</text><text transform="translate(586.14 2115.7) scale(1.091 1)">8.00</text><text transform="translate(698.97 2115.7) scale(1.091 1)">10.00</text><text transform="translate(811.81 2115.7) scale(1.091 1)">12.00</text><text transform="translate(950.04 2115.7) scale(1.091 1)">14.45</text></g>
<text transform="translate(569.84 1501) scale(1.0 1)" font-size="35.88" letter-spacing="0.985" text-anchor="middle">SOTA method : Ascending aorta AD</text>
<text transform="translate(568.94 2157.1) scale(1.0 1)" font-size="35.88" letter-spacing="0.983" text-anchor="middle">Mean of Ground Truth and SOTA</text>
<text transform="translate(32.3 1799.02) rotate(-90)" font-size="35.88" letter-spacing="0.952" text-anchor="middle">Ground Truth - SOTA</text>
<g font-size="35.36" text-anchor="end"><text transform="translate(972 1603.4) scale(1.015 1)">+1.96 SD</text><text transform="translate(972 1646.3) scale(1.015 1)">3.77</text><text transform="translate(972 1727.6) scale(1.015 1)">Mean</text><text transform="translate(972 1770.1) scale(1.015 1)">0.39</text><text transform="translate(972 1851.2) scale(1.015 1)">-3.00</text><text transform="translate(972 1896) scale(1.015 1)">-1.96 SD</text></g>
<rect x="1176.8" y="1619" width="821.3" height="34.9" fill="#ff7f50" fill-opacity="0.2"/>
<rect x="1176.8" y="1721.9" width="821.3" height="20.2" fill="#6495ed" fill-opacity="0.2"/>
<rect x="1176.8" y="1810.6" width="821.3" height="34.6" fill="#ff7f50" fill-opacity="0.2"/>
<g fill="#000" fill-opacity="0.5" stroke="#000" stroke-opacity="0.5" stroke-width="1"><circle cx="1213.6" cy="1743.1" r="4.4"/><circle cx="1221" cy="1732.7" r="4.4"/><circle cx="1231.3" cy="1728.2" r="4.4"/><circle cx="1254.6" cy="1732.7" r="4.4"/><circle cx="1279.6" cy="1732.7" r="4.4"/><circle cx="1289.8" cy="1726.4" r="4.4"/><circle cx="1289.4" cy="1737.7" r="4.4"/><circle cx="1294.5" cy="1732.4" r="4.4"/><circle cx="1294.5" cy="1732.4" r="4.4"/><circle cx="1296.2" cy="1738.9" r="4.4"/><circle cx="1300.5" cy="1725" r="4.4"/><circle cx="1306.4" cy="1734.2" r="4.4"/><circle cx="1311.4" cy="1731.2" r="4.4"/><circle cx="1311.4" cy="1731.2" r="4.4"/><circle cx="1310.8" cy="1734.8" r="4.4"/><circle cx="1318" cy="1738.9" r="4.4"/><circle cx="1323.9" cy="1732.4" r="4.4"/><circle cx="1328.1" cy="1737.5" r="4.4"/><circle cx="1306.4" cy="1746.1" r="4.4"/><circle cx="1337.3" cy="1742.9" r="4.4"/><circle cx="1350.7" cy="1748.8" r="4.4"/><circle cx="1363.8" cy="1745.8" r="4.4"/><circle cx="1371.2" cy="1716.5" r="4.4"/><circle cx="1372.1" cy="1728.6" r="4.4"/><circle cx="1374.3" cy="1732.4" r="4.4"/><circle cx="1375.7" cy="1734.8" r="4.4"/><circle cx="1385.8" cy="1731.2" r="4.4"/><circle cx="1393" cy="1745.8" r="4.4"/><circle cx="1401.9" cy="1753.2" r="4.4"/><circle cx="1404.3" cy="1741.9" r="4.4"/><circle cx="1407.3" cy="1741.3" r="4.4"/><circle cx="1412.4" cy="1748.8" r="4.4"/><circle cx="1410.8" cy="1713.6" r="4.4"/><circle cx="1410.8" cy="1713.6" r="4.4"/><circle cx="1412.4" cy="1788.6" r="4.4"/><circle cx="1439" cy="1692.9" r="4.4"/><circle cx="1442" cy="1710.4" r="4.4"/><circle cx="1445.1" cy="1718.1" r="4.4"/><circle cx="1428.7" cy="1721.7" r="4.4"/><circle cx="1437.6" cy="1722.3" r="4.4"/><circle cx="1424.5" cy="1728.2" r="4.4"/><circle cx="1431.1" cy="1731.2" r="4.4"/><circle cx="1433.1" cy="1743.1" r="4.4"/><circle cx="1446" cy="1732.4" r="4.4"/><circle cx="1453.7" cy="1732.4" r="4.4"/><circle cx="1454.9" cy="1725.8" r="4.4"/><circle cx="1458.5" cy="1723.8" r="4.4"/><circle cx="1453.7" cy="1744.6" r="4.4"/><circle cx="1466.8" cy="1744.3" r="4.4"/><circle cx="1468.6" cy="1741.3" r="4.4"/><circle cx="1477.5" cy="1744.6" r="4.4"/><circle cx="1490.6" cy="1728.2" r="4.4"/><circle cx="1500.7" cy="1722.3" r="4.4"/><circle cx="1505.2" cy="1698.8" r="4.4"/><circle cx="1512.6" cy="1729" r="4.4"/><circle cx="1507.9" cy="1734.2" r="4.4"/><circle cx="1511.4" cy="1740.7" r="4.4"/><circle cx="1503.7" cy="1743.1" r="4.4"/><circle cx="1503.7" cy="1743.1" r="4.4"/><circle cx="1504.9" cy="1750.2" r="4.4"/><circle cx="1509.6" cy="1754.8" r="4.4"/><circle cx="1530.2" cy="1741.3" r="4.4"/><circle cx="1542.1" cy="1750.6" r="4.4"/><circle cx="1542.1" cy="1750.6" r="4.4"/><circle cx="1573" cy="1747.3" r="4.4"/><circle cx="1574.5" cy="1770.7" r="4.4"/><circle cx="1570" cy="1780" r="4.4"/><circle cx="1599.5" cy="1743.1" r="4.4"/><circle cx="1592.6" cy="1550.3" r="4.4"/><circle cx="1632" cy="1569.3" r="4.4"/><circle cx="1612.7" cy="1659.2" r="4.4"/><circle cx="1724.7" cy="1651.4" r="4.4"/><circle cx="1960.5" cy="1672.4" r="4.4"/><circle cx="1621.6" cy="1704.4" r="4.4"/><circle cx="1626" cy="1718.1" r="4.4"/><circle cx="1642.3" cy="1729.8" r="4.4"/><circle cx="1669.9" cy="1725.4" r="4.4"/><circle cx="1676.1" cy="1722.1" r="4.4"/><circle cx="1652.5" cy="1750.4" r="4.4"/><circle cx="1703.9" cy="1743.1" r="4.4"/><circle cx="1867.5" cy="1743.1" r="4.4"/><circle cx="1876.4" cy="1737.1" r="4.4"/><circle cx="1899.5" cy="2059.3" r="4.4"/></g>
<line x1="1176.8" y1="1636.2" x2="1998.1" y2="1636.2" stroke="#fb8a60" stroke-width="2.4" stroke-dasharray="7.6 3.8"/>
<line x1="1176.8" y1="1731.8" x2="1998.1" y2="1731.8" stroke="#769fee" stroke-width="2.4" stroke-dasharray="7.6 3.8"/>
<line x1="1176.8" y1="1828" x2="1998.1" y2="1828" stroke="#fb8a60" stroke-width="2.4" stroke-dasharray="7.6 3.8"/>
<path d="M1176.8 1548.85V2058.65M1213.84 2084.6H1959.6M1176.8 1548.85h-5.6M1176.8 1622.31h-5.6M1176.8 1732.27h-5.6M1176.8 1842.24h-5.6M1176.8 1952.2h-5.6M1176.8 2058.65h-5.6M1213.84 2084.6v5.6M1255.91 2084.6v5.6M1383.39 2084.6v5.6M1510.87 2084.6v5.6M1638.35 2084.6v5.6M1765.83 2084.6v5.6M1893.31 2084.6v5.6M1959.6 2084.6v5.6" stroke="#3a3a3a" stroke-width="1.5" fill="none"/>
<g font-size="26.87" text-anchor="end"><text transform="translate(1163.4 1560.52) scale(1.091 1)">8.34</text><text transform="translate(1163.4 1633.98) scale(1.091 1)">5.00</text><text transform="translate(1163.4 1743.94) scale(1.091 1)">0.00</text><text transform="translate(1163.4 1853.91) scale(1.091 1)">−5.00</text><text transform="translate(1163.4 1963.88) scale(1.091 1)">−10.00</text><text transform="translate(1163.4 2070.32) scale(1.091 1)">−14.84</text></g>
<g font-size="26.87" text-anchor="middle"><text transform="translate(1213.84 2117.4) scale(1.091 1)">1.34</text><text transform="translate(1383.39 2117.4) scale(1.091 1)">4.00</text><text transform="translate(1510.87 2117.4) scale(1.091 1)">6.00</text><text transform="translate(1638.35 2117.4) scale(1.091 1)">8.00</text><text transform="translate(1765.83 2117.4) scale(1.091 1)">10.00</text><text transform="translate(1893.31 2117.4) scale(1.091 1)">12.00</text><text transform="translate(1959.6 2117.4) scale(1.091 1)">13.04</text></g>
<text transform="translate(1586.34 1514.2) scale(1.0 1)" font-size="35.19" letter-spacing="0.974" text-anchor="middle">SOTA method : Descending aorta AD</text>
<text transform="translate(1586.13 2157.6) scale(1.0 1)" font-size="35.19" letter-spacing="0.964" text-anchor="middle">Mean of Ground Truth and SOTA</text>
<text transform="translate(1040.2 1806.93) rotate(-90)" font-size="35.19" letter-spacing="0.934" text-anchor="middle">Ground Truth - SOTA</text>
<g font-size="34.68" text-anchor="end"><text transform="translate(1981.3 1627.4) scale(1.015 1)">+1.96 SD</text><text transform="translate(1981.3 1668.8) scale(1.015 1)">4.36</text><text transform="translate(1981.3 1722.6) scale(1.015 1)">Mean</text><text transform="translate(1981.3 1764.3) scale(1.015 1)">0.01</text><text transform="translate(1981.3 1818.4) scale(1.015 1)">-4.35</text><text transform="translate(1981.3 1860.2) scale(1.015 1)">-1.96 SD</text></g>
</svg></body></html>
